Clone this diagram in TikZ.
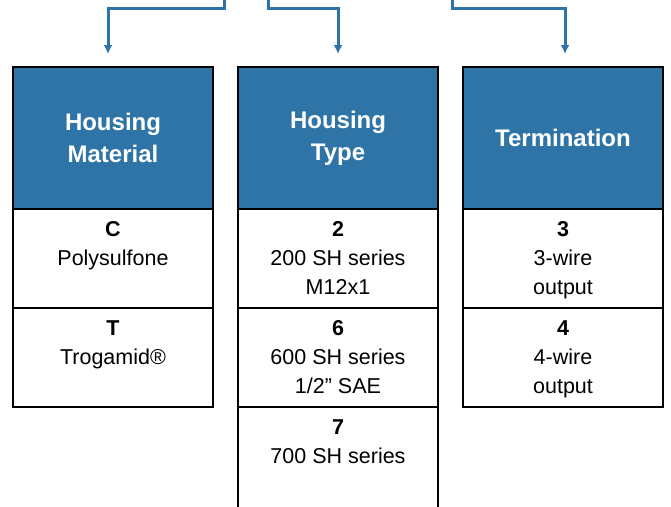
\documentclass[tikz,border=0pt]{standalone}
\usepackage{fontspec}
\setmainfont{Liberation Sans}
\usepackage{xcolor}
\usepackage{tikz}
\usetikzlibrary{positioning}
\usetikzlibrary{arrows.meta}
\definecolor{hdrblue}{RGB}{46,116,166}
\tikzset{feed/.style = {draw=hdrblue, line width=3pt, -{Latex[length=9pt,width=9pt]}}}
\newcommand{\cellbox}[3][99pt]{\parbox[c][#1][t]{200pt}{\centering\rule{0pt}{27pt}\textbf{#2}\\#3}}

\begin{document}
\begin{tikzpicture}[x=1pt,y=-1pt,node distance=25pt,
    head node/.style={draw=black,fill=hdrblue,line width=2.5pt,outer sep=0pt,inner sep=0pt,
        minimum width=200pt,minimum height=142pt,align=center,text=white,
        font=\fontsize{24}{32}\selectfont\bfseries},
    cell node/.style={draw=black,line width=2.5pt,outer sep=0pt,inner sep=0pt,
        font=\fontsize{21.5}{29}\selectfont}]
    \useasboundingbox (0,0) rectangle (671,506);

    % column heads
    \node[head node] (hmat) at (113,138) {Housing\\Material};
    \node[head node] (htype) [right=of hmat] {Housing\\Type};
    \node[head node] (hterm) [right=of htype] {Termination};

    % housing material
    \node[cell node] (c) [below=0pt of hmat] {\cellbox{C}{Polysulfone}};
    \node[cell node] (t) [below=0pt of c] {\cellbox{T}{Trogamid\textregistered}};

    % housing type
    \node[cell node] (two) [below=0pt of htype] {\cellbox{2}{200 SH series\\M12x1}};
    \node[cell node] (six) [below=0pt of two] {\cellbox{6}{600 SH series\\1/2\textquotedblright\ SAE}};
    \node[cell node] (seven) [below=0pt of six] {\cellbox[115pt]{7}{700 SH series}};

    % termination
    \node[cell node] (three) [below=0pt of hterm] {\cellbox{3}{3-wire\\output}};
    \node[cell node] (four) [below=0pt of three] {\cellbox{4}{4-wire\\output}};

    \coordinate (in1) at (224,-3);
    \coordinate (in2) at (268,-3);
    \coordinate (in3) at (452,-3);

    \path[feed] (in1) -- ++(0,11) -| ([xshift=-5pt,yshift=13pt]hmat.north);
    \path[feed] (in2) -- ++(0,11) -| ([yshift=13pt]htype.north);
    \path[feed] (in3) -- ++(0,11) -| ([xshift=2pt,yshift=13pt]hterm.north);
\end{tikzpicture}
\end{document}
